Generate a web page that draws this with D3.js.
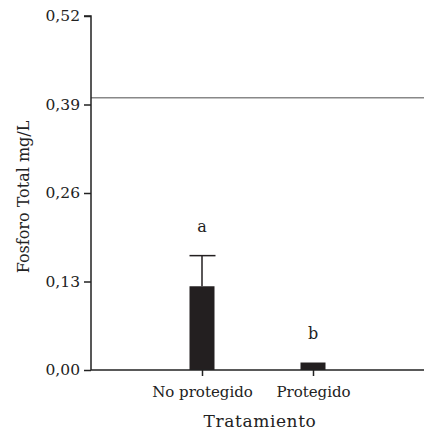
<!DOCTYPE html>
<html><head><meta charset="utf-8">
<script src="https://cdn.jsdelivr.net/npm/d3@7"></script>
<style>body{margin:0;background:#fff}svg{display:block}text{font-family:"DejaVu Serif",serif;fill:#222}</style>
</head><body>
<svg id="c" width="424" height="433"></svg>
<script>
const categories = ["No protegido", "Protegido"];
const means = [0.123, 0.011];
const errors = [0.045, 0];
const letters = ["a", "b"];
const yTicks = [0, 0.13, 0.26, 0.39, 0.52];
const refLine = 0.40;

const svg = d3.select("#c");
const m = {left: 91, top: 16, bottom: 370, right: 424};
const y = d3.scaleLinear().domain([0, 0.52]).range([m.bottom, m.top]);
const x = d3.scaleLinear().domain([0, 3]).range([m.left, m.right]);
const bw = 25;

// reference line
svg.append("line").attr("x1", m.left).attr("x2", m.right)
  .attr("y1", y(refLine)).attr("y2", y(refLine))
  .attr("stroke", "#888").attr("stroke-width", 1.5);

// bars
const g = svg.append("g");
categories.forEach((c, i) => {
  const cx = x(i + 1);
  g.append("rect").attr("x", cx - bw/2).attr("width", bw)
    .attr("y", y(means[i])).attr("height", y(0) - y(means[i]))
    .attr("fill", "#231f20");
  if (errors[i] > 0) {
    g.append("line").attr("x1", cx).attr("x2", cx)
      .attr("y1", y(means[i])).attr("y2", y(means[i] + errors[i]))
      .attr("stroke", "#231f20").attr("stroke-width", 1.5);
    g.append("line").attr("x1", cx - bw/2).attr("x2", cx + bw/2 + 1)
      .attr("y1", y(means[i] + errors[i])).attr("y2", y(means[i] + errors[i]))
      .attr("stroke", "#231f20").attr("stroke-width", 1.5);
  }
  g.append("text").attr("x", cx).attr("y", y(means[i] + errors[i]) - 24)
    .attr("text-anchor", "middle").attr("font-size", 16).text(letters[i]);
});

// y axis
const ya = svg.append("g").attr("transform", `translate(${m.left},0)`)
  .call(d3.axisLeft(y).tickValues(yTicks).tickSize(7).tickPadding(4)
    .tickFormat(d => d3.format(".2f")(d).replace(".", ",")));
ya.select(".domain").attr("stroke", "#222").attr("stroke-width", 1.5).attr("d", `M-7,${m.top}H0V${m.bottom}`);
ya.selectAll(".tick line").attr("stroke", "#222").attr("stroke-width", 1.5);
ya.selectAll(".tick text").attr("font-size", 15.5).attr("font-family", "DejaVu Serif").attr("fill", "#222");

// x axis
const xa = svg.append("g").attr("transform", `translate(0,${m.bottom})`)
  .call(d3.axisBottom(x).tickValues([1, 2]).tickSize(6).tickPadding(10)
    .tickFormat(d => categories[d - 1]));
xa.select(".domain").attr("stroke", "#222").attr("stroke-width", 1.5).attr("d", `M${m.left},0H${m.right}`);
xa.selectAll(".tick line").attr("stroke", "#222").attr("stroke-width", 1.5);
xa.selectAll(".tick text").attr("font-size", 15).attr("font-family", "DejaVu Serif").attr("fill", "#222");

// titles
svg.append("text").attr("x", 260).attr("y", 427).attr("text-anchor", "middle")
  .attr("font-size", 17).attr("letter-spacing", 0.6).text("Tratamiento");
svg.append("text").attr("transform", "translate(29,197) rotate(-90)")
  .attr("text-anchor", "middle").attr("font-size", 16).text("Fosforo Total mg/L");
</script>
</body></html>
